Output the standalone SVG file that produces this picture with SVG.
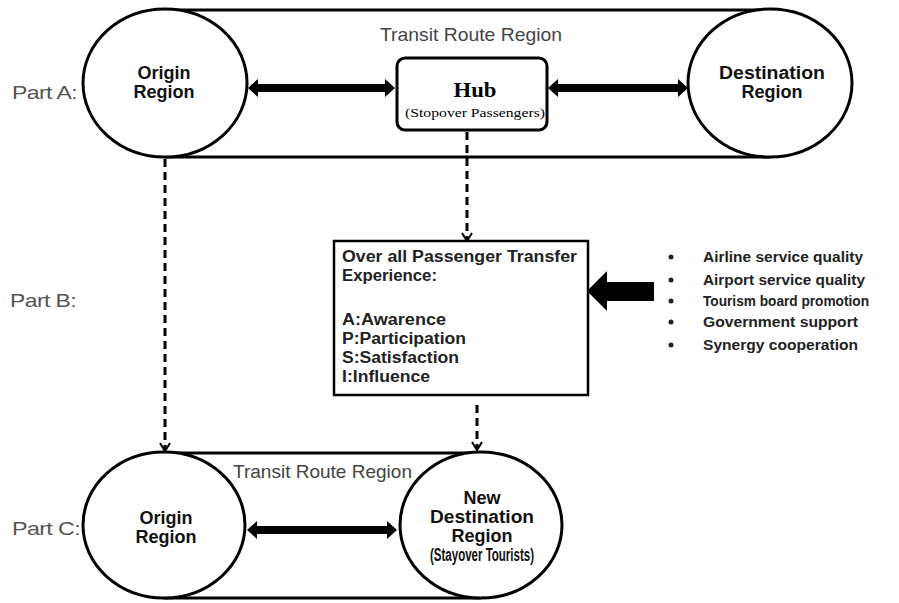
<svg xmlns="http://www.w3.org/2000/svg" width="899" height="603" viewBox="0 0 899 603">
<style>
.ln{stroke:#000;stroke-width:3;fill:none}
.circ{stroke:#000;stroke-width:3;fill:#fff}
.dash{stroke:#000;stroke-width:3;stroke-dasharray:8 5;fill:none}
.head{stroke:#000;stroke-width:2;fill:none}
.part{font-family:"Liberation Sans",Arial,sans-serif;font-size:19px;fill:#555;letter-spacing:-0.5px}
.transit{font-family:"Liberation Sans",Arial,sans-serif;font-size:19px;fill:#444}
.reg{font-family:"Liberation Sans",Arial,sans-serif;font-size:18px;font-weight:bold;fill:#111;text-anchor:middle}
.box{font-family:"Liberation Sans",Arial,sans-serif;font-size:16px;font-weight:bold;fill:#222}
.bul{font-family:"Liberation Sans",Arial,sans-serif;font-size:14.5px;font-weight:bold;fill:#222}
.serif{font-family:"Liberation Serif","Times New Roman",serif;fill:#000;text-anchor:middle}
</style>

<g id="partA-frame">
  <line class="ln" x1="165" y1="10" x2="770" y2="10"/>
  <line class="ln" x1="165" y1="157" x2="770" y2="157"/>
  <text class="transit" x="380" y="41" textLength="182" lengthAdjust="spacingAndGlyphs">Transit Route Region</text>
</g>
<g id="partC-frame">
  <line class="ln" x1="164" y1="453" x2="481" y2="453"/>
  <line class="ln" x1="164" y1="598" x2="481" y2="598"/>
</g>

<g id="labels">
  <text class="part" x="12" y="99" textLength="65" lengthAdjust="spacingAndGlyphs">Part A:</text>
  <text class="part" x="10" y="307" textLength="66" lengthAdjust="spacingAndGlyphs">Part B:</text>
  <text class="part" x="12" y="535" textLength="68" lengthAdjust="spacingAndGlyphs">Part C:</text>
</g>

<g id="connectors">
  <path d="M248,88 L258,79 L258,84 L385,84 L385,79 L395,88 L385,97 L385,92 L258,92 L258,97 Z" fill="#000"/>
  <path d="M548,88 L558,79 L558,84 L678,84 L678,79 L688,88 L678,97 L678,92 L558,92 L558,97 Z" fill="#000"/>
  <path d="M247,530 L257,521 L257,526 L387,526 L387,521 L397,530 L387,539 L387,534 L257,534 L257,539 Z" fill="#000"/>
  <path d="M587,291 L607,271 L607,282 L654,282 L654,301 L607,301 L607,311 Z" fill="#000"/>
  <line class="dash" x1="165" y1="159" x2="165" y2="449"/>
  <polyline class="head" points="160,443 165,451 170,443"/>
  <line class="dash" x1="467" y1="132" x2="467" y2="239"/>
  <polyline class="head" points="462,233 467,241 472,233"/>
  <line class="dash" x1="477" y1="405" x2="477" y2="448"/>
  <polyline class="head" points="472,442 477,450 482,442"/>
</g>

<g id="originA">
  <ellipse class="circ" cx="165" cy="83" rx="82" ry="74"/>
  <text class="reg" x="164" y="79">Origin</text>
  <text class="reg" x="164" y="98">Region</text>
</g>

<g id="hub">
  <rect x="397" y="58" width="150" height="72" rx="8" ry="8" fill="#fff" stroke="#000" stroke-width="3"/>
  <text class="serif" x="475" y="97" font-size="22" font-weight="bold" textLength="43" lengthAdjust="spacingAndGlyphs">Hub</text>
  <text class="serif" x="475" y="117" font-size="13.5" textLength="140" lengthAdjust="spacingAndGlyphs">(Stopover Passengers)</text>
</g>

<g id="destinationA">
  <ellipse class="circ" cx="770" cy="83" rx="82" ry="74"/>
  <text class="reg" x="772" y="79" textLength="106" lengthAdjust="spacingAndGlyphs">Destination</text>
  <text class="reg" x="772" y="98">Region</text>
</g>

<g id="experience">
  <rect x="334" y="241" width="254" height="154" fill="#fff" stroke="#000" stroke-width="2.5"/>
  <text class="box" x="342" y="262" textLength="235" lengthAdjust="spacingAndGlyphs">Over all Passenger Transfer</text>
  <text class="box" x="342" y="281" textLength="95" lengthAdjust="spacingAndGlyphs">Experience:</text>
  <text class="box" x="342" y="325" textLength="104" lengthAdjust="spacingAndGlyphs">A:Awarence</text>
  <text class="box" x="342" y="344" textLength="124" lengthAdjust="spacingAndGlyphs">P:Participation</text>
  <text class="box" x="342" y="363" textLength="117" lengthAdjust="spacingAndGlyphs">S:Satisfaction</text>
  <text class="box" x="342" y="382" textLength="88" lengthAdjust="spacingAndGlyphs">I:Influence</text>
</g>

<g id="factors">
  <circle cx="671" cy="257" r="2.5" fill="#222"/>
  <circle cx="671" cy="280" r="2.5" fill="#222"/>
  <circle cx="671" cy="301" r="2.5" fill="#222"/>
  <circle cx="671" cy="322" r="2.5" fill="#222"/>
  <circle cx="671" cy="345" r="2.5" fill="#222"/>
  <text class="bul" x="703" y="262" textLength="160" lengthAdjust="spacingAndGlyphs">Airline service quality</text>
  <text class="bul" x="703" y="285" textLength="162" lengthAdjust="spacingAndGlyphs">Airport service quality</text>
  <text class="bul" x="703" y="306" textLength="166" lengthAdjust="spacingAndGlyphs">Tourism board promotion</text>
  <text class="bul" x="703" y="327" textLength="155" lengthAdjust="spacingAndGlyphs">Government support</text>
  <text class="bul" x="703" y="350" textLength="155" lengthAdjust="spacingAndGlyphs">Synergy cooperation</text>
</g>

<g id="originC">
  <ellipse class="circ" cx="164" cy="525" rx="81" ry="73"/>
  <text class="reg" x="166" y="524">Origin</text>
  <text class="reg" x="166" y="543">Region</text>
</g>

<g id="newDestination">
  <ellipse class="circ" cx="481" cy="525" rx="81" ry="73"/>
  <text class="reg" x="482" y="504">New</text>
  <text class="reg" x="482" y="523" textLength="104" lengthAdjust="spacingAndGlyphs">Destination</text>
  <text class="reg" x="482" y="542">Region</text>
  <text class="reg" x="482" y="561" font-size="9" textLength="104" lengthAdjust="spacingAndGlyphs">(Stayover Tourists)</text>
</g>

<g id="partC-title">
  <text class="transit" x="233" y="478" textLength="179" lengthAdjust="spacingAndGlyphs">Transit Route Region</text>
</g>
</svg>
